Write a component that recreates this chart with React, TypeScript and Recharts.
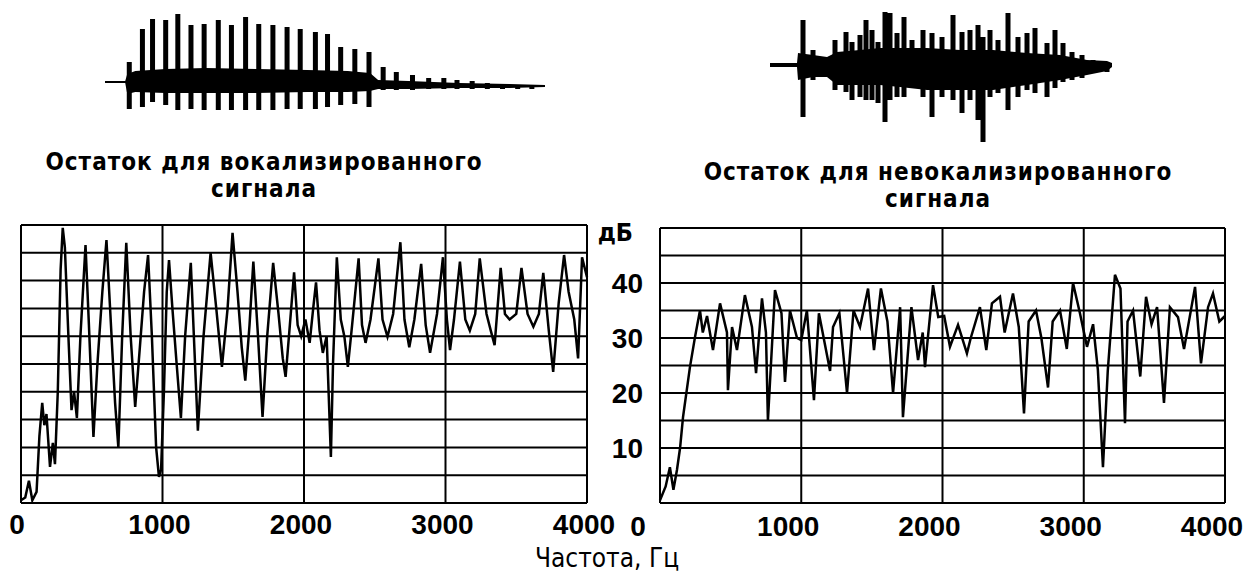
import React from "react";
import {
  ComposedChart,
  LineChart,
  Line,
  Area,
  XAxis,
  YAxis,
  CartesianGrid,
} from "recharts";

// residual spectrum, voiced signal (Hz / dB)
const voicedFreq = [
  0, 30, 56, 80, 110, 130, 150, 165, 180, 205, 225, 240, 260, 280, 295, 310, 335, 357, 375, 395,
  420, 456, 480, 512, 540, 575, 604, 640, 665, 688, 715, 744, 775, 807, 840, 870, 898, 925, 955, 975,
  990, 1010, 1030, 1046, 1070, 1100, 1130, 1160, 1200, 1225, 1250, 1290, 1340, 1380, 1420, 1460, 1495, 1530, 1560, 1585,
  1615, 1642, 1675, 1707, 1740, 1782, 1820, 1850, 1870, 1900, 1930, 1955, 1980, 2010, 2040, 2065, 2085, 2110, 2133, 2160,
  2190, 2205, 2232, 2260, 2285, 2310, 2340, 2386, 2410, 2435, 2470, 2526, 2555, 2590, 2630, 2681, 2710, 2744, 2780, 2828,
  2860, 2891, 2940, 2982, 3010, 3032, 3060, 3102, 3140, 3172, 3210, 3242, 3290, 3320, 3347, 3390, 3420, 3453, 3500, 3537,
  3580, 3621, 3660, 3691, 3730, 3761, 3800, 3838, 3870, 3910, 3937, 3965, 4000,
];
const voicedDb = [
  0.5, 1, 4, 0.5, 2, 12, 18, 14, 16, 6.5, 10.8, 7, 20, 42, 49.5, 46, 30, 16.7, 20, 15.3,
  30, 46.4, 32, 11.9, 25, 38, 47.3, 30, 18, 10, 30, 46.8, 30, 17.3, 28, 38, 44.6, 30, 10, 4.7,
  6, 20, 38, 43.7, 35, 25, 15.3, 30, 43.2, 28, 13, 30, 45, 35, 24.5, 35, 48.6, 38, 28, 22,
  32, 43.4, 30, 15.5, 30, 43.2, 34, 26, 22.7, 32, 41.5, 32, 30, 33, 28.8, 35, 39.7, 31, 27, 30,
  8.3, 25, 44.2, 33, 30, 24.5, 32, 44, 32, 28.8, 33, 44, 33, 29.9, 34, 46.9, 33, 28, 33, 43,
  32, 27, 34, 44.2, 33, 27.5, 33, 43.4, 33, 31, 34, 44, 34, 31, 28.4, 42.3, 34, 33, 34, 42.3,
  34, 31.7, 34, 41.4, 31, 23.6, 36, 44.6, 38, 33, 26, 44.2, 40.6,
];

// residual spectrum, unvoiced signal (Hz / dB)
const unvoicedFreq = [
  0, 40, 70, 95, 120, 142, 163, 212, 248, 283, 303, 333, 375, 425, 474, 481, 510, 545, 601, 651,
  680, 722, 750, 764, 814, 860, 885, 920, 970, 1000, 1040, 1090, 1125, 1204, 1225, 1270, 1324, 1370, 1416, 1473,
  1515, 1564, 1610, 1650, 1700, 1720, 1780, 1827, 1860, 1876, 1933, 1970, 2012, 2053, 2110, 2173, 2200, 2265, 2310, 2350,
  2407, 2440, 2499, 2540, 2577, 2610, 2662, 2700, 2747, 2780, 2832, 2880, 2924, 2973, 3023, 3066, 3100, 3136, 3170, 3221,
  3260, 3292, 3310, 3349, 3400, 3441, 3480, 3519, 3568, 3610, 3667, 3710, 3788, 3830, 3880, 3915, 3960, 4000,
];
const unvoicedDb = [
  0.5, 3, 6.5, 2.4, 6, 10, 15.6, 24.7, 30.2, 35, 31, 34, 27.8, 36.3, 31, 20.5, 32, 27.8, 37.8, 32,
  23.6, 37.2, 31, 15, 38.7, 34.5, 22, 35, 30, 29.6, 35, 18.7, 34.5, 24, 32, 34.5, 20, 35, 32, 39,
  27.8, 39, 33, 20, 35.6, 15.6, 35.6, 26, 31, 24.7, 39.6, 33.8, 34, 28.4, 32.4, 27.2, 30, 35.6, 27.8, 36.3,
  37.5, 31, 38.1, 32, 16.3, 33, 35, 30, 21, 33, 35, 28, 40, 34.5, 28.4, 32.5, 24.2, 6.5, 24, 41.5,
  39, 14.5, 33, 35, 23, 37.5, 32.5, 35.6, 18.2, 35.6, 33.8, 28, 39.3, 25.4, 35.6, 38.1, 33, 34,
];

const freqTicks = [0, 1000, 2000, 3000, 4000];
const dbTicks = [0, 5, 10, 15, 20, 25, 30, 35, 40, 45, 50];
const dbLabels: Record<number, string> = { 10: "10", 20: "20", 30: "30", 40: "40", 50: "дБ" };

// voiced waveform: pitch pulses and body envelope (time, amplitude)
const voicedPulseT = [
  24, 37, 47, 60, 72, 85, 98, 112, 125, 139, 152, 166, 180, 193, 208, 220, 233, 247, 261, 275,
  288, 304, 320, 335, 348, 363, 378, 393, 408, 422,
];
const voicedPulseHi = [
  20, 53, 63, 62, 68, 57, 58, 62, 57, 65, 58, 57, 55, 53, 50, 48, 35, 33, 30, 15,
  10, 7, 4, 4, 2, 1, -1, -2, -3, -3,
];
const voicedPulseLo = [
  -27, -25, -20, -23, -28, -27, -28, -28, -28, -28, -28, -28, -27, -27, -27, -25, -23, -22, -25, -8,
  -8, -8, -7, -7, -7, -7, -7, -7, -7, -7,
];
const voicedBodyT = [0, 20, 22, 30, 60, 100, 150, 200, 240, 262, 270, 300, 350, 400, 435];
const voicedBodyHi = [1, 1, 8, 11, 13, 14, 13, 12, 11, 9, 2, 1, -1, -2, -3];
const voicedBodyLo = [-1, -1, -12, -10, -11, -11, -11, -10, -10, -9, -7, -7, -6, -6, -5];

// unvoiced waveform
const unvoicedPulseT = [
  33, 43, 65, 76, 82, 90, 96, 102, 108, 115, 120, 127, 134, 142, 153, 162, 172, 183, 192, 200,
  208, 213, 220, 228, 238, 248, 257, 265, 277, 285, 293, 302, 312, 323, 337,
];
const unvoicedPulseHi = [
  45, 15, 25, 33, 23, 30, 45, 35, 23, 53, 52, 32, 48, 25, 35, 32, 28, 50, 33, 35,
  40, 28, 35, 25, 52, 28, 32, 37, 22, 35, 22, 13, 10, 5, 2,
];
const unvoicedPulseLo = [
  -52, -15, -25, -27, -35, -32, -35, -35, -38, -57, -35, -32, -32, -22, -32, -52, -32, -35, -48, -35,
  -55, -77, -32, -28, -45, -32, -25, -28, -32, -23, -17, -15, -13, -8, -7,
];
const unvoicedBodyT = [0, 27, 28, 43, 57, 67, 90, 110, 130, 157, 190, 223, 257, 290, 317, 337, 342];
const unvoicedBodyHi = [2, 2, 12, 10, 8, 13, 15, 17, 17, 17, 15, 15, 12, 10, 5, 4, 2];
const unvoicedBodyLo = [-2, -2, -15, -12, -12, -20, -20, -20, -22, -25, -25, -25, -20, -15, -10, -6, -2];

const voicedData = voicedFreq.map((f, i) => ({ f, db: voicedDb[i] }));
const unvoicedData = unvoicedFreq.map((f, i) => ({ f, db: unvoicedDb[i] }));
// each pulse becomes a vertical segment lo -> hi, broken by a null
const toSegments = (ts: number[], lo: number[], hi: number[]) =>
  ts.flatMap((t, i) => [
    { t, v: lo[i] },
    { t, v: hi[i] },
    { t, v: null },
  ]);
const voicedPulses = toSegments(voicedPulseT, voicedPulseLo, voicedPulseHi);
const voicedBody = voicedBodyT.map((t, i) => ({ t, r: [voicedBodyLo[i], voicedBodyHi[i]] }));
const unvoicedPulses = toSegments(unvoicedPulseT, unvoicedPulseLo, unvoicedPulseHi);
const unvoicedBody = unvoicedBodyT.map((t, i) => ({ t, r: [unvoicedBodyLo[i], unvoicedBodyHi[i]] }));

const numFont = "'Liberation Sans', Arial, sans-serif";
const textFont = "'DejaVu Sans Condensed', 'DejaVu Sans', sans-serif";

const makeFreqTick = (shift: number, zeroShift: number, down: number) => (props: any) => {
  const { x, y, payload } = props;
  return (
    <text
      x={x + (payload.value === 0 ? zeroShift : shift)}
      y={y + down}
      textAnchor="middle"
      fontFamily={numFont}
      fontWeight="bold"
      fontSize={28}
      fill="#000"
    >
      {payload.value}
    </text>
  );
};

const DbTick = (props: any) => {
  const { x, y, payload } = props;
  const label = dbLabels[payload.value];
  if (!label) return null;
  const isUnit = payload.value === 50;
  return (
    <text
      x={isUnit ? x - 10 : x}
      y={isUnit ? y + 13 : y + 10}
      textAnchor="end"
      fontFamily={isUnit ? textFont : numFont}
      fontWeight="bold"
      fontSize={isUnit ? 25 : 28}
      fill="#000"
    >
      {label}
    </text>
  );
};

const Waveform = ({ pulses, body, width, height, xMax, yMin, yMax, pulseWidth }: any) => (
  <ComposedChart width={width} height={height} data={pulses} margin={{ top: 0, right: 0, bottom: 0, left: 0 }}>
    <XAxis type="number" dataKey="t" domain={[0, xMax]} hide />
    <YAxis type="number" domain={[yMin, yMax]} hide />
    <Area
      data={body}
      dataKey="r"
      type="linear"
      fill="#000"
      fillOpacity={1}
      stroke="none"
      isAnimationActive={false}
    />
    <Line
      dataKey="v"
      type="linear"
      stroke="#000"
      strokeWidth={pulseWidth}
      strokeLinecap="butt"
      dot={false}
      connectNulls={false}
      isAnimationActive={false}
    />
  </ComposedChart>
);

export default function App() {
  return (
    <div style={{ position: "absolute", left: 0, top: 0, width: 1260, height: 576, background: "#fff", overflow: "hidden" }}>
      <div style={{ position: "absolute", left: 105, top: 12 }}>
        <Waveform pulses={voicedPulses} body={voicedBody} width={440} height={105} xMax={435} yMin={-35} yMax={70} pulseWidth={5} />
      </div>
      <div style={{ position: "absolute", left: 770, top: 5 }}>
        <Waveform pulses={unvoicedPulses} body={unvoicedBody} width={342} height={140} xMax={342} yMin={-80} yMax={60} pulseWidth={5} />
      </div>

      <svg style={{ position: "absolute", left: 0, top: 0 }} width={1260} height={576}>
        <g fontFamily={textFont} fontWeight="bold" fontSize={24} letterSpacing={1} fill="#000" textAnchor="middle">
          <text x={264} y={170}>Остаток для вокализированного</text>
          <text x={264} y={197}>сигнала</text>
          <text x={938} y={180}>Остаток для невокализированного</text>
          <text x={938} y={207}>сигнала</text>
        </g>
        <text x={607} y={567} fontFamily={textFont} fontSize={26} fill="#000" textAnchor="middle">
          Частота, Гц
        </text>
      </svg>

      <div style={{ position: "absolute", left: 0, top: 215 }}>
        <LineChart width={620} height={328} data={voicedData} margin={{ top: 10, right: 33, bottom: 0, left: 21 }}>
          <CartesianGrid stroke="#000" strokeWidth={2} horizontal vertical />
          <XAxis
            type="number"
            dataKey="f"
            domain={[0, 4000]}
            ticks={freqTicks}
            height={40}
            axisLine={false}
            tickLine={false}
            tick={makeFreqTick(-3, -4, 23)}
          />
          <YAxis type="number" domain={[0, 50]} ticks={dbTicks} hide />
          <Line dataKey="db" type="linear" stroke="#000" strokeWidth={2.5} dot={false} isAnimationActive={false} />
        </LineChart>
      </div>

      <div style={{ position: "absolute", left: 580, top: 215 }}>
        <LineChart width={680} height={328} data={unvoicedData} margin={{ top: 13, right: 35, bottom: 0, left: 0 }}>
          <CartesianGrid stroke="#000" strokeWidth={2} horizontal vertical />
          <XAxis
            type="number"
            dataKey="f"
            domain={[0, 4000]}
            ticks={freqTicks}
            height={40}
            axisLine={false}
            tickLine={false}
            tick={makeFreqTick(-13, -22, 25)}
          />
          <YAxis
            type="number"
            domain={[0, 50]}
            ticks={dbTicks}
            width={80}
            axisLine={false}
            tickLine={false}
            tickMargin={11}
            tick={DbTick}
          />
          <Line dataKey="db" type="linear" stroke="#000" strokeWidth={2.5} dot={false} isAnimationActive={false} />
        </LineChart>
      </div>
    </div>
  );
}
